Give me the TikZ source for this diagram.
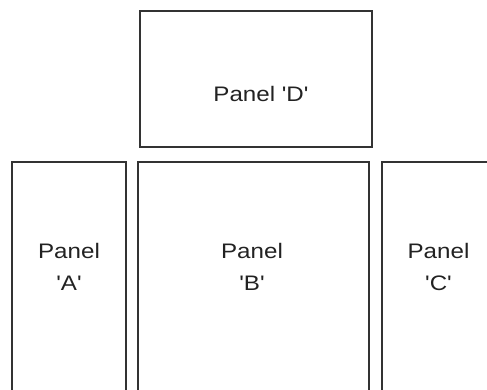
\documentclass[tikz,border=0pt]{standalone}
\usepackage{fontspec}
\newfontfamily\pfont{Liberation Sans}[FakeStretch=1.15]
\definecolor{edge}{HTML}{333333}
\definecolor{ink}{HTML}{222222}
\begin{document}
\begin{tikzpicture}[x=1pt,y=-1pt,
  panel/.style={draw=edge, line width=1.5pt, rectangle, inner sep=0pt},
  label/.style={text=ink, inner sep=0pt, align=center,
    font=\pfont\fontsize{21}{32}\selectfont}]
\useasboundingbox (0,0) rectangle (487,390);
\clip (0,0) rectangle (487,390);
\node[panel, minimum width=232pt, minimum height=136pt] (D) at (256,79) {};
\node[panel, minimum width=114pt, minimum height=238pt] (A) at (69,281) {};
\node[panel, minimum width=231pt, minimum height=238pt] (B) at (253.5,281) {};
\node[panel, minimum width=114pt, minimum height=238pt] (C) at (439,281) {};
\node[label, anchor=base] (Dt) at (261,102) {Panel 'D'};
\node[label] (At) at (69,266.5) {Panel\\'A'};
\node[label] (Bt) at (252,266.5) {Panel\\'B'};
\node[label] (Ct) at (438.5,266.5) {Panel\\'C'};
\end{tikzpicture}
\end{document}
